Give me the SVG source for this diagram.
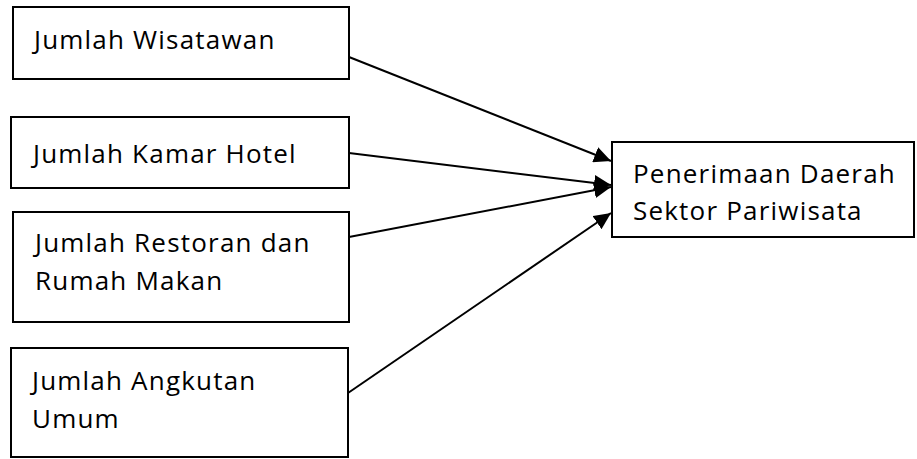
<svg xmlns="http://www.w3.org/2000/svg" width="917" height="459" viewBox="0 0 917 459">
<style>
.box{fill:#fff;stroke:#000;stroke-width:2}
.t{font-family:"Open Sans","Liberation Sans",sans-serif;font-size:26px;letter-spacing:1.2px;fill:#000}
.c{stroke:#000;stroke-width:2;fill:none}
</style>
<defs>
<marker id="ah" markerUnits="userSpaceOnUse" markerWidth="18" markerHeight="16" refX="17" refY="8" orient="auto">
<path d="M0,0 L17,8 L0,16 Z" fill="#000"/>
</marker>
</defs>
<rect width="917" height="459" fill="#fff"/>
<g id="n1"><rect class="box" x="13" y="7" width="336" height="72"/><text class="t" x="34" y="49">Jumlah Wisatawan</text></g>
<g id="n2"><rect class="box" x="11" y="117" width="338" height="71"/><text class="t" x="33" y="163">Jumlah Kamar Hotel</text></g>
<g id="n3"><rect class="box" x="13" y="212" width="336" height="110"/><text class="t" x="35" y="252">Jumlah Restoran dan</text><text class="t" x="35" y="290">Rumah Makan</text></g>
<g id="n4"><rect class="box" x="11" y="348" width="337" height="109"/><text class="t" x="32" y="390">Jumlah Angkutan</text><text class="t" x="32" y="428">Umum</text></g>
<g id="n5"><rect class="box" x="612" y="142" width="302" height="95"/><text class="t" x="633" y="183">Penerimaan Daerah</text><text class="t" x="633" y="220">Sektor Pariwisata</text></g>
<g id="connectors">
<line class="c" x1="349" y1="57" x2="611" y2="161" marker-end="url(#ah)"/>
<line class="c" x1="349" y1="153" x2="611" y2="185" marker-end="url(#ah)"/>
<line class="c" x1="349" y1="237" x2="611" y2="187" marker-end="url(#ah)"/>
<line class="c" x1="348" y1="393" x2="611" y2="213" marker-end="url(#ah)"/>
</g>
</svg>
